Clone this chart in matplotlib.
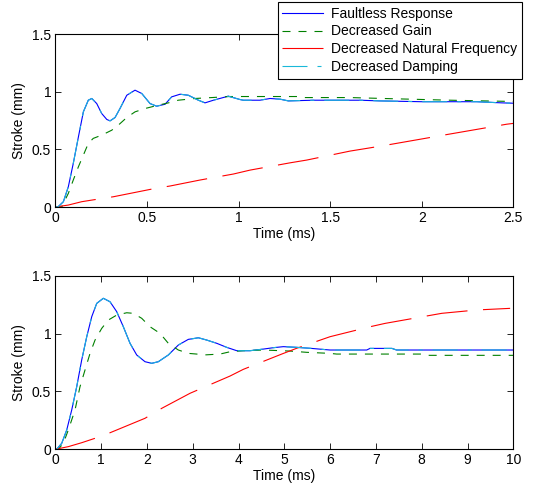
import matplotlib
matplotlib.use("Agg")
import matplotlib.pyplot as plt

plt.rcParams["font.family"] = ["Liberation Sans", "DejaVu Sans"]
plt.rcParams["font.size"] = 10

# ---------- DATA: top panel (0 - 2.5 ms) ----------
t_fault_top = [0, 0.016, 0.044, 0.071, 0.098, 0.126, 0.153, 0.18, 0.199, 0.226, 0.253,
               0.281, 0.299, 0.326, 0.353, 0.39, 0.435, 0.472, 0.517, 0.553, 0.599,
               0.635, 0.681, 0.726, 0.781, 0.817, 0.863, 0.944, 1.008, 1.026, 1.117,
               1.172, 1.227, 1.272, 1.408, 1.663, 1.772, 2.0, 2.3, 2.437, 2.5]
y_fault_top = [0, 0.003, 0.046, 0.176, 0.378, 0.608, 0.825, 0.926, 0.941, 0.897, 0.811,
               0.759, 0.747, 0.776, 0.854, 0.969, 1.013, 0.984, 0.897, 0.874, 0.891,
               0.955, 0.978, 0.969, 0.926, 0.903, 0.926, 0.961, 0.932, 0.926, 0.926,
               0.941, 0.935, 0.92, 0.926, 0.926, 0.92, 0.913, 0.913, 0.903, 0.9]

t_gain_top = [0, 0.035, 0.053, 0.071, 0.098, 0.126, 0.153, 0.18, 0.207, 0.253, 0.308,
              0.344, 0.39, 0.435, 0.49, 0.562, 0.617, 0.671, 0.763, 0.854, 0.95,
              1.33, 1.36, 1.609, 1.79, 2.155, 2.5]
y_gain_top = [0, 0.0, 0.06, 0.118, 0.234, 0.349, 0.45, 0.551, 0.595, 0.623, 0.666,
              0.71, 0.776, 0.825, 0.854, 0.883, 0.903, 0.926, 0.941, 0.949, 0.958,
              0.958, 0.949, 0.949, 0.941, 0.926, 0.915]

t_freq_top = [0, 0.071, 0.144, 0.235, 0.317, 0.544, 0.626, 0.79, 0.972, 1.063, 1.281,
              1.372, 1.609, 1.718, 1.809, 2.036, 2.118, 2.464, 2.5]
y_freq_top = [0, 0.017, 0.046, 0.069, 0.089, 0.161, 0.182, 0.234, 0.286, 0.32, 0.383,
              0.407, 0.485, 0.513, 0.537, 0.6, 0.623, 0.718, 0.725]

t_damp_top = t_fault_top
y_damp_top = y_fault_top

# ---------- DATA: bottom panel (0 - 10 ms) ----------
t_fault_bot = [0, 0.03, 0.14, 0.249, 0.358, 0.467, 0.576, 0.686, 0.795, 0.904, 1.048,
               1.194, 1.341, 1.485, 1.631, 1.777, 1.958, 2.105, 2.249, 2.467, 2.686,
               2.904, 3.05, 3.122, 3.306, 3.524, 3.742, 3.961, 4.251, 4.542, 4.76,
               4.978, 5.27, 5.561, 5.998, 6.22, 6.8, 6.87, 7.35, 7.45, 10]
y_fault_bot = [0, 0, 0.052, 0.167, 0.34, 0.541, 0.772, 0.973, 1.146, 1.261, 1.305,
               1.275, 1.189, 1.059, 0.916, 0.815, 0.757, 0.743, 0.757, 0.815, 0.901,
               0.95, 0.959, 0.964, 0.944, 0.916, 0.881, 0.852, 0.852, 0.866, 0.878,
               0.887, 0.881, 0.873, 0.858, 0.858, 0.858, 0.872, 0.872, 0.858, 0.858]

t_gain_bot = [0, 0.066, 0.175, 0.284, 0.43, 0.539, 0.648, 0.758, 0.867, 1.013, 1.157,
              1.341, 1.559, 1.703, 1.886, 2.068, 2.286, 2.467, 2.686, 2.904, 3.087,
              3.231, 3.596, 3.814, 4.105, 4.542, 5.124, 5.489, 5.998, 6.144, 8.0,
              8.07, 10]
y_gain_bot = [0, 0, 0.052, 0.167, 0.34, 0.541, 0.685, 0.829, 0.944, 1.045, 1.117,
              1.16, 1.18, 1.175, 1.132, 1.059, 1.002, 0.916, 0.858, 0.829, 0.823,
              0.815, 0.823, 0.843, 0.852, 0.858, 0.849, 0.838, 0.829, 0.823, 0.823,
              0.812, 0.812]

t_freq_bot = [0, 0.284, 0.576, 0.904, 1.194, 1.958, 2.323, 2.941, 3.814, 4.105, 4.943,
              5.27, 5.998, 6.871, 7.199, 8.109, 8.437, 9.201, 9.93]
y_freq_bot = [0, 0.023, 0.057, 0.1, 0.143, 0.268, 0.354, 0.484, 0.633, 0.691, 0.823,
              0.873, 0.973, 1.059, 1.088, 1.152, 1.175, 1.204, 1.218]

t_damp_bot = t_fault_bot
y_damp_bot = y_fault_bot

labels = ["Faultless Response", "Decreased Gain",
          "Decreased Natural Frequency", "Decreased Damping"]

# ---------- STYLES ----------
BLUE = (0, 0, 1)
GREEN = (0, 0.5, 0)
RED = (1, 0, 0)
CYAN = (0.1, 0.72, 0.85)
LW = 0.8

fig = plt.figure(figsize=(5.33, 4.88), dpi=100)
ax1 = fig.add_axes([0.1038, 0.5758, 0.8593, 0.3545])
ax2 = fig.add_axes([0.1038, 0.0793, 0.8593, 0.3557])


def draw(ax, data, xmax, xticks):
    (tf, yf), (tg, yg), (tr, yr), (td, yd) = data
    h1, = ax.plot(tf, yf, color=BLUE, lw=LW)
    h2, = ax.plot(tg, yg, color=GREEN, lw=LW, dashes=(7.2, 7.2))
    h3, = ax.plot(tr, yr, color=RED, lw=LW, dashes=(37, 14))
    h4, = ax.plot(td, yd, color=CYAN, lw=LW, dashes=(22.5, 9, 3.6, 9))
    ax.set_xlim(0, xmax)
    ax.set_ylim(0, 1.5)
    ax.set_xticks(xticks)
    ax.set_xticklabels([f"{v:g}" for v in xticks])
    ax.set_yticks([0, 0.5, 1, 1.5])
    ax.set_yticklabels(["0", "0.5", "1", "1.5"])
    ax.tick_params(direction="in", length=4, width=0.6, top=True, right=True, pad=3)
    for s in ax.spines.values():
        s.set_linewidth(0.8)
    ax.set_xlabel("Time (ms)", labelpad=1)
    ax.set_ylabel("Stroke (mm)", labelpad=4)
    return [h1, h2, h3, h4]


handles = draw(ax1, [(t_fault_top, y_fault_top), (t_gain_top, y_gain_top),
                     (t_freq_top, y_freq_top), (t_damp_top, y_damp_top)],
               2.5, [0, 0.5, 1, 1.5, 2, 2.5])
draw(ax2, [(t_fault_bot, y_fault_bot), (t_gain_bot, y_gain_bot),
           (t_freq_bot, y_freq_bot), (t_damp_bot, y_damp_bot)],
     10, list(range(0, 11)))

leg = fig.legend(handles, labels, loc="upper right",
                 bbox_to_anchor=(522 / 533, 1 - 2 / 488),
                 fancybox=False, edgecolor="black", framealpha=1,
                 handlelength=2.9, handletextpad=0.6, labelspacing=0.26,
                 borderpad=0.35, borderaxespad=0)
leg.get_frame().set_linewidth(0.8)

fig.savefig("out.png", dpi=100)
